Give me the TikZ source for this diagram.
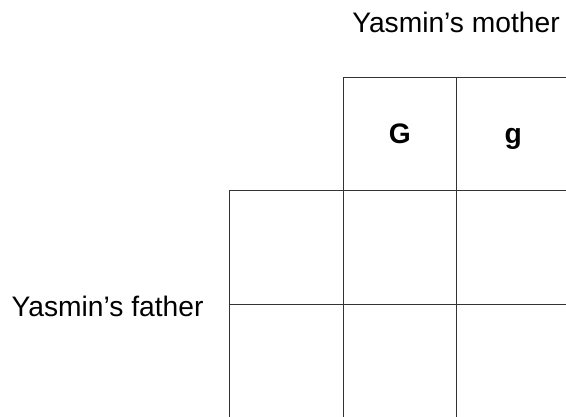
\documentclass[tikz,border=0pt]{standalone}
\usepackage{fontspec}
\setmainfont{Liberation Sans}
\usetikzlibrary{positioning}
\tikzset{
 punnett/.style={font=\fontsize{28.2}{33}\selectfont,x=1pt,y=1pt,line join=miter},
 cell/.style={rectangle,draw=black!80,line width=1pt,minimum size=113.5pt,inner sep=0pt,outer sep=0pt,
   text height=20pt,text depth=0pt,font=\fontsize{28.2}{33}\selectfont\bfseries},
 parent/.style={inner sep=0pt,anchor=base}
}

\begin{document}
\begin{tikzpicture}[punnett]
 \useasboundingbox (0,0) rectangle (566,416);
 \clip (0,0) rectangle (566,416);
 % mother's gametes
 \node[cell] (G) at (399.75,282) {G};
 \node[cell,right=0pt of G] (g) {g};
 % offspring cells
 \node[cell,below=0pt of G] (G1) {};
 \node[cell,below=0pt of G1] (G2) {};
 \node[cell,below=0pt of g] (g1) {};
 \node[cell,below=0pt of g1] (g2) {};
 % father's gametes
 \node[cell,left=0pt of G1] (f1) {};
 \node[cell,left=0pt of G2] (f2) {};
 \node[parent] (mother) at (456,383.5) {Yasmin’s mother};
 \node[parent,anchor=base west] (father) at (11.5,100) {Yasmin’s father};
\end{tikzpicture}
\end{document}
